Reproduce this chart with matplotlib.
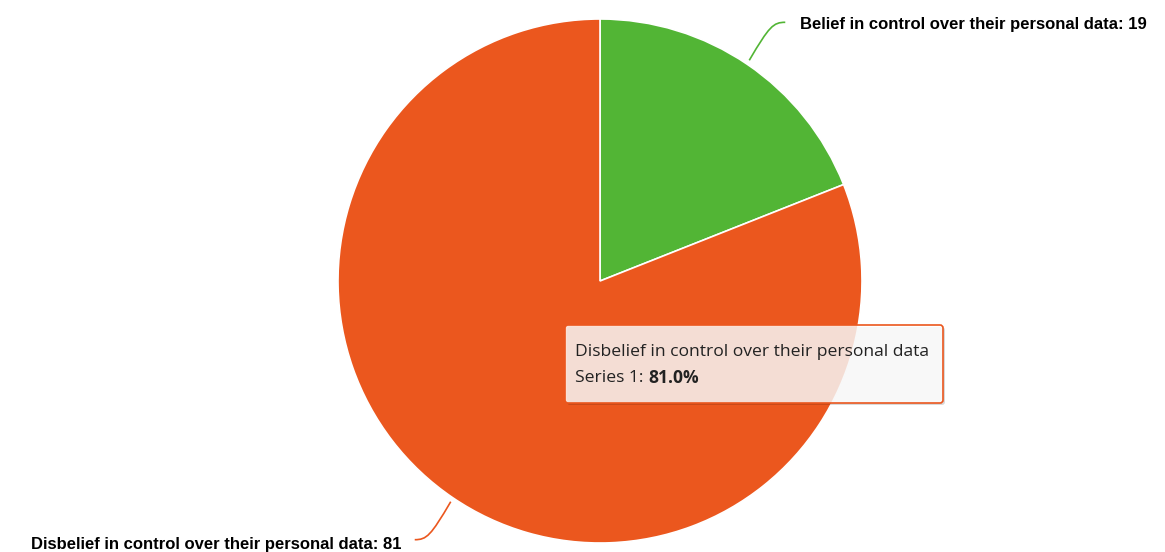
import numpy as np
import matplotlib.pyplot as plt
from matplotlib.patches import FancyBboxPatch
from matplotlib.path import Path
from matplotlib.patches import PathPatch

labels = ['Belief in control over their personal data',
          'Disbelief in control over their personal data']
values = [19, 81]
colors = ['#52b535', '#eb571e']
tooltip_idx = 1


def main():
    fig = plt.figure(figsize=(11.65, 5.52), dpi=100)
    ax = fig.add_axes([0, 0, 1, 1])

    cx, cy, r = 600, 281, 262
    # y axis is flipped, so counterclock in data = clockwise on screen
    ax.pie(values, colors=colors, startangle=-90, counterclock=True,
           center=(cx, cy), radius=r, frame=True,
           wedgeprops=dict(edgecolor='white', linewidth=1.2))
    ax.set_xlim(0, 1165)
    ax.set_ylim(552, 0)
    ax.set_aspect('equal')
    ax.axis('off')

    # connectors + data labels
    total = sum(values)
    start = 90
    for i, v in enumerate(values):
        sweep = 360 * v / total
        mid = np.radians(start - sweep / 2)
        start -= sweep
        ex, ey = cx + r * np.cos(mid), cy - r * np.sin(mid)
        side = 1 if np.cos(mid) > 0 else -1
        vert = -1 if np.sin(mid) > 0 else 1
        ly = ey + vert * 42
        lx = ex + side * 34
        verts = [(ex + side * 2, ey + vert * 4), (ex + side * 22, ly - vert * 4),
                 (lx - side * 8, ly), (lx + side * 4, ly)]
        path = Path(verts, [Path.MOVETO, Path.CURVE4, Path.CURVE4, Path.CURVE4])
        ax.add_patch(PathPatch(path, fill=False, edgecolor=colors[i], lw=1.2))
        ax.text(lx + side * (19 if side > 0 else 17), ly + (2 if vert < 0 else 5),
                f'{labels[i]}: {v}',
                ha='left' if side > 0 else 'right', va='center',
                fontsize=12, fontweight='bold', family='Liberation Sans',
                color='black')

    # tooltip
    bx, by, bw, bh = 565, 325, 378, 78
    ax.add_patch(FancyBboxPatch((bx + 2, by + 2), bw, bh,
                                boxstyle='round,pad=0,rounding_size=3',
                                facecolor='black', alpha=0.15, edgecolor='none'))
    ax.add_patch(FancyBboxPatch((bx, by), bw, bh,
                                boxstyle='round,pad=0,rounding_size=3',
                                facecolor='white', alpha=0.82, edgecolor='none'))
    ax.add_patch(FancyBboxPatch((bx, by), bw, bh,
                                boxstyle='round,pad=0,rounding_size=3',
                                facecolor='none', edgecolor=colors[tooltip_idx], lw=1.2))
    pct = 100 * values[tooltip_idx] / total
    fs = 12.6
    ax.text(bx + 10, by + 27, labels[tooltip_idx], fontsize=fs,
            family='Open Sans', color='#222222', va='center')
    t = ax.text(bx + 10, by + 53, 'Series 1:', fontsize=fs,
                family='Open Sans', color='#222222', va='center')
    fig.canvas.draw()
    w = t.get_window_extent().width
    ax.text(bx + 10 + w + 5, by + 53, f'{pct:.1f}%', fontsize=fs, fontweight='bold',
            family='Open Sans', color='#222222', va='center')

    fig.savefig('out.png', dpi=100)


if __name__ == '__main__':
    main()
